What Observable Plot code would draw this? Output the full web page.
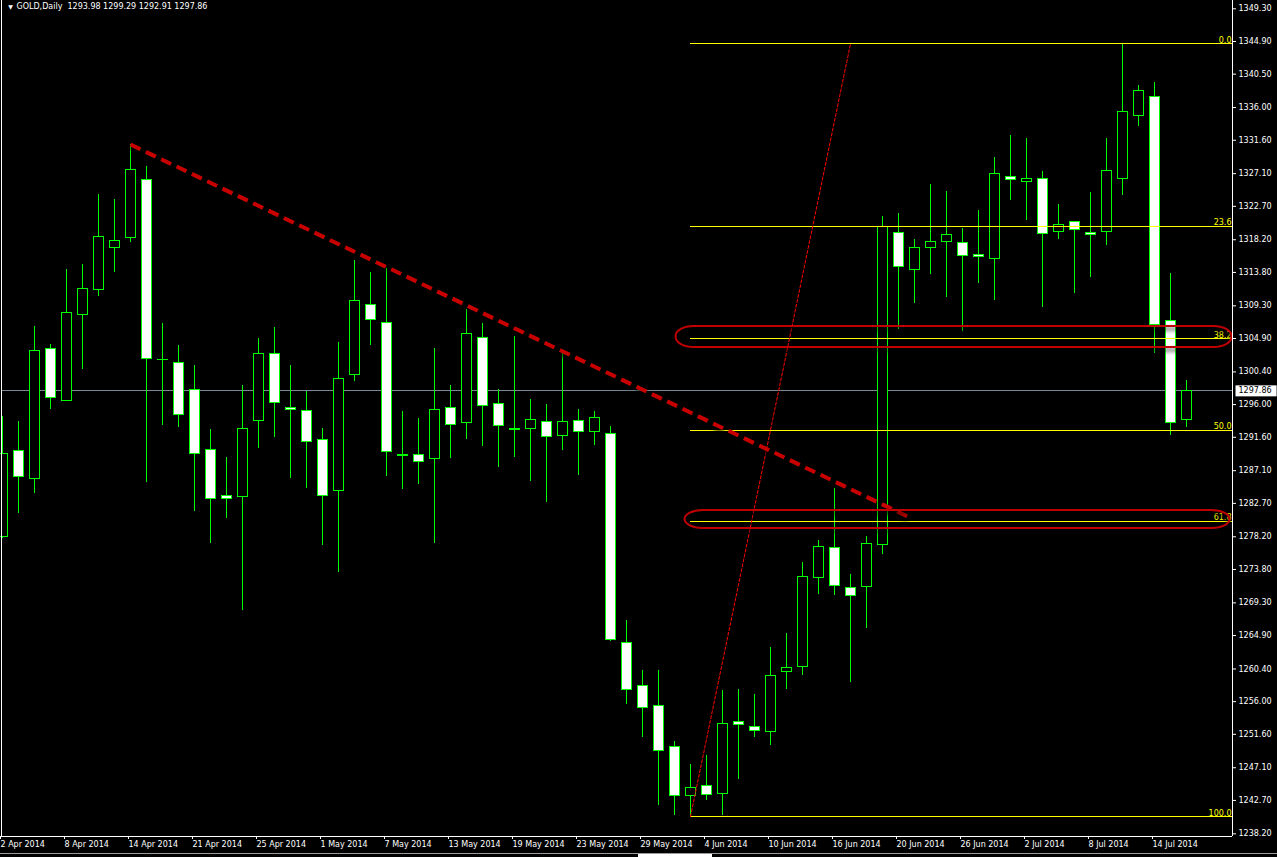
<!DOCTYPE html>
<html>
<head>
<meta charset="utf-8">
<script src="https://cdn.jsdelivr.net/npm/d3@7"></script>
<script src="https://cdn.jsdelivr.net/npm/@observablehq/plot@0.6"></script>
<style>
  html, body { margin: 0; padding: 0; background: #000; }
  #wrap { position: relative; width: 1277px; height: 857px; overflow: hidden; }
  .deco { position: absolute; }
</style>
</head>
<body>
<div id="wrap"></div>
<script>
// ---------- data ----------
const symbol = "GOLD";
const timeframe = "Daily";

const dates = [
  "2 Apr 2014","3 Apr 2014","4 Apr 2014","7 Apr 2014","8 Apr 2014","9 Apr 2014","10 Apr 2014","11 Apr 2014","14 Apr 2014","15 Apr 2014",
  "16 Apr 2014","17 Apr 2014","21 Apr 2014","22 Apr 2014","23 Apr 2014","24 Apr 2014","25 Apr 2014","28 Apr 2014","29 Apr 2014","30 Apr 2014",
  "1 May 2014","2 May 2014","5 May 2014","6 May 2014","7 May 2014","8 May 2014","9 May 2014","12 May 2014","13 May 2014","14 May 2014",
  "15 May 2014","16 May 2014","19 May 2014","20 May 2014","21 May 2014","22 May 2014","23 May 2014","26 May 2014","27 May 2014","28 May 2014",
  "29 May 2014","30 May 2014","2 Jun 2014","3 Jun 2014","4 Jun 2014","5 Jun 2014","6 Jun 2014","9 Jun 2014","10 Jun 2014","11 Jun 2014",
  "12 Jun 2014","13 Jun 2014","16 Jun 2014","17 Jun 2014","18 Jun 2014","19 Jun 2014","20 Jun 2014","23 Jun 2014","24 Jun 2014","25 Jun 2014",
  "26 Jun 2014","27 Jun 2014","30 Jun 2014","1 Jul 2014","2 Jul 2014","3 Jul 2014","4 Jul 2014","7 Jul 2014","8 Jul 2014","9 Jul 2014",
  "10 Jul 2014","11 Jul 2014","14 Jul 2014","15 Jul 2014","16 Jul 2014"
];

const open = [
  1278.13,1289.76,1285.99,1303.50,1296.50,1308.08,1311.45,1317.10,1318.45,1326.26,
  1302.07,1301.62,1297.98,1289.90,1283.65,1283.57,1293.80,1302.83,1295.60,1295.15,
  1291.24,1284.38,1300.00,1309.43,1307.00,1289.22,1289.22,1288.69,1295.56,1293.54,
  1304.98,1296.09,1292.72,1292.67,1293.62,1291.79,1293.80,1292.27,1292.05,1263.90,
  1258.11,1255.42,1249.90,1243.30,1244.59,1243.57,1253.27,1252.59,1251.92,1260.00,
  1260.67,1272.66,1276.70,1271.31,1271.45,1277.10,1319.12,1314.14,1317.10,1317.91,
  1317.78,1316.16,1315.57,1326.71,1325.94,1326.40,1319.20,1320.61,1319.16,1319.20,
  1326.34,1334.83,1337.44,1307.27,1293.98
];
const high = [
  1294.38,1293.71,1306.50,1304.08,1314.18,1314.85,1324.28,1323.61,1331.02,1328.05,
  1306.91,1303.94,1301.21,1292.63,1288.86,1298.52,1304.85,1306.37,1301.25,1297.79,
  1292.77,1304.35,1315.39,1313.78,1314.32,1295.06,1294.11,1303.54,1298.56,1308.79,
  1306.91,1298.02,1305.16,1296.67,1296.00,1303.27,1295.33,1295.06,1293.00,1266.91,
  1260.17,1260.17,1250.61,1247.51,1248.69,1257.44,1257.62,1256.94,1263.27,1265.16,
  1274.72,1277.68,1284.69,1273.10,1278.22,1321.32,1321.72,1318.18,1325.63,1324.65,
  1319.70,1322.13,1329.27,1332.23,1331.82,1327.38,1322.94,1320.61,1324.55,1331.82,
  1344.59,1338.96,1339.37,1313.64,1299.29
];
const low = [
  1278.00,1281.28,1283.97,1295.37,1296.40,1300.67,1310.59,1313.82,1317.86,1285.53,
  1293.21,1292.94,1281.63,1277.32,1280.69,1268.26,1290.11,1291.60,1286.07,1284.73,
  1277.05,1273.41,1299.14,1303.99,1286.34,1284.59,1285.27,1277.32,1288.77,1291.33,
  1290.38,1287.55,1288.90,1285.67,1282.84,1289.84,1286.48,1290.52,1264.12,1255.64,
  1251.19,1242.03,1240.69,1240.53,1242.63,1240.69,1245.53,1251.19,1250.11,1257.66,
  1259.54,1270.45,1270.28,1258.60,1265.87,1275.76,1306.14,1309.64,1313.55,1310.37,
  1305.87,1312.34,1310.05,1323.51,1320.82,1309.10,1318.26,1310.99,1313.14,1317.45,
  1324.19,1333.48,1302.91,1291.86,1292.91
];
const close = [
  1289.36,1286.21,1303.23,1296.90,1308.35,1311.58,1318.59,1318.05,1327.61,1302.15,
  1301.97,1294.61,1289.36,1283.30,1283.34,1292.73,1302.83,1296.23,1295.33,1290.92,
  1283.65,1299.46,1309.97,1307.41,1289.63,1289.12,1288.28,1295.29,1293.27,1305.52,
  1295.82,1293.13,1292.62,1293.94,1291.60,1293.67,1292.27,1294.21,1264.31,1257.58,
  1255.15,1249.36,1243.30,1244.38,1243.43,1253.00,1252.90,1252.05,1259.46,1260.54,
  1272.79,1276.83,1271.58,1270.23,1277.24,1319.97,1314.54,1317.10,1317.91,1318.85,
  1316.03,1315.89,1327.07,1326.26,1326.44,1318.99,1320.20,1319.53,1318.85,1327.47,
  1335.42,1338.25,1306.68,1293.54,1297.86
];

// price-axis tick labels and date-axis tick positions (bar index)
const yTickLabels = [1349.30,1344.90,1340.50,1336.00,1331.60,1327.10,1322.70,1318.20,1313.80,1309.30,
  1304.90,1300.40,1296.00,1291.60,1287.10,1282.70,1278.20,1273.80,1269.30,1264.90,
  1260.40,1256.00,1251.60,1247.10,1242.70,1238.20];
const xTickIndex = [0,4,8,12,16,20,24,28,32,36,40,44,48,52,56,60,64,68,72];

// drawn objects
const fibLevels = [0, 23.6, 38.2, 50, 61.8, 100];
const fibLowBar = 43, fibHighBar = 53;          // anchors of the Fibonacci tool
const trendStart = {bar: 8, price: 1331.02};
const trendEnd = {bar: 56.7, price: 1280.8};
const ellipses = [
  {x1: 42.1, x2: 76.84, top: 1306.52, bottom: 1303.69},
  {x1: 42.66, x2: 76.72, top: 1281.74, bottom: 1279.31}
];

// ---------- build ----------
const candles = dates.map((d, i) => ({i, date: d, open: open[i], high: high[i], low: low[i], close: close[i]}));
const bulls = candles.filter(d => d.close >= d.open);
const bears = candles.filter(d => d.close < d.open);
const last = candles[candles.length - 1];
const fibHigh = d3.max(high), fibLow = d3.min(low);
const fibs = fibLevels.map(l => ({level: l, label: l.toFixed(1), price: fibHigh - l / 100 * (fibHigh - fibLow)}));

const xDomain = [-0.0625, 76.875];
const yDomain = [1237.84, 1350.418];
const GREEN = "#00ff00";
const FONT = "DejaVu Sans, Verdana, sans-serif";
const CRISP = "crispEdges";

const chart = Plot.plot({
  width: 1277,
  height: 857,
  marginLeft: 1,
  marginRight: 45,
  marginTop: 0,
  marginBottom: 21,
  x: {type: "linear", domain: xDomain, axis: null},
  y: {type: "linear", domain: yDomain, axis: null},
  style: {background: "#000", color: "#fff", fontFamily: FONT, fontSize: "8px"},
  marks: [
    // current price line
    Plot.ruleY([last.close], {stroke: "#778899", strokeWidth: 1, shapeRendering: CRISP}),
    // wicks
    Plot.ruleX(candles, {x: "i", y1: "low", y2: "high", stroke: GREEN, strokeWidth: 1, shapeRendering: CRISP}),
    // bodies
    Plot.rect(bulls, {x1: d => d.i - 0.3125, x2: d => d.i + 0.3125, y1: "open", y2: "close", fill: "#000", stroke: GREEN, strokeWidth: 1, shapeRendering: CRISP}),
    Plot.rect(bears, {x1: d => d.i - 0.3125, x2: d => d.i + 0.3125, y1: "open", y2: "close", fill: "#fff", stroke: GREEN, strokeWidth: 1, shapeRendering: CRISP}),
    // fibonacci levels
    Plot.ruleY(fibs, {y: "price", x1: fibLowBar, x2: xDomain[1], stroke: "#ffff00", strokeWidth: 1, shapeRendering: CRISP}),
    Plot.text(fibs, {y: "price", x: xDomain[1], text: "label", textAnchor: "end", lineAnchor: "bottom", dx: -1, dy: -1, fill: "#ffff00", fontSize: 8}),
    // fibonacci anchor line (dotted)
    Plot.line([{x: fibLowBar, y: fibLow}, {x: fibHighBar, y: fibHigh}], {x: "x", y: "y", stroke: "#ff0000", strokeWidth: 1, strokeDasharray: "3,2"}),
    // trend line
    Plot.line([{x: trendStart.bar, y: trendStart.price}, {x: trendEnd.bar, y: trendEnd.price}], {x: "x", y: "y", stroke: "#c80000", strokeWidth: 4, strokeDasharray: "11,6", strokeLinecap: "butt", className: "shadowed"}),
    // ellipses
    Plot.rect(ellipses, {x1: "x1", x2: "x2", y1: "top", y2: "bottom", fill: "none", stroke: "#c00000", strokeWidth: 2, rx: 18, ry: 10, className: "shadowed"}),
    // axes
    Plot.axisY(yTickLabels, {anchor: "right", tickSize: 3, tickPadding: 3, tickFormat: d => d.toFixed(2), fontSize: 8, color: "#fff", label: null}),
    Plot.axisX(xTickIndex, {anchor: "bottom", tickSize: 3, tickPadding: 2, tickFormat: i => dates[i], textAnchor: "start", dx: -2, fontSize: 8, color: "#fff", label: null}),
    // frame
    Plot.ruleX([xDomain[0], xDomain[1]], {stroke: "#fff", shapeRendering: CRISP}),
    Plot.ruleY([yDomain[0]], {stroke: "#fff", shapeRendering: CRISP}),
    // price label box text
    Plot.text([last.close], {y: d => d, frameAnchor: "right", dx: 6, textAnchor: "start", text: d => d.toFixed(2), fill: "#000", fontSize: 8, className: "pricebox"}),
    // header
    Plot.text([last], {frameAnchor: "top-left", dx: 15, dy: 3, lineAnchor: "top", textAnchor: "start", fill: "#fff", fontSize: 8,
      text: d => `${symbol},${timeframe}  ${d.open.toFixed(2)} ${d.high.toFixed(2)} ${d.low.toFixed(2)} ${d.close.toFixed(2)}`}),
    Plot.text(["\u25BC"], {frameAnchor: "top-left", dx: 9, dy: 4, lineAnchor: "top", textAnchor: "middle", fill: "#fff", fontSize: 6})
  ]
});

const wrap = document.getElementById("wrap");
wrap.appendChild(chart);

// white background box behind the current price label
const pb = chart.querySelector(".pricebox");
if (pb) {
  const t = pb.querySelector("text");
  const bb = t.getBBox();
  const r = document.createElementNS("http://www.w3.org/2000/svg", "rect");
  r.setAttribute("x", bb.x - 3);
  r.setAttribute("y", bb.y + bb.height / 2 - 5.5);
  r.setAttribute("width", bb.width + 8);
  r.setAttribute("height", 11);
  r.setAttribute("fill", "#fff");
  if (t.getAttribute("transform")) r.setAttribute("transform", t.getAttribute("transform"));
  t.parentNode.insertBefore(r, t);
}
chart.querySelectorAll(".shadowed").forEach(g => g.style.filter = "drop-shadow(0px 3px 2px rgba(0,0,0,0.85))");

// window bottom strip (tab bar)
const line = document.createElement("div");
line.className = "deco";
Object.assign(line.style, {left: "0px", top: "853px", width: "1277px", height: "1px", background: "#9a9a9a"});
wrap.appendChild(line);
const tab = document.createElement("div");
tab.className = "deco";
Object.assign(tab.style, {left: "638px", top: "854px", width: "74px", height: "3px", background: "#fff"});
wrap.appendChild(tab);
</script>
</body>
</html>
